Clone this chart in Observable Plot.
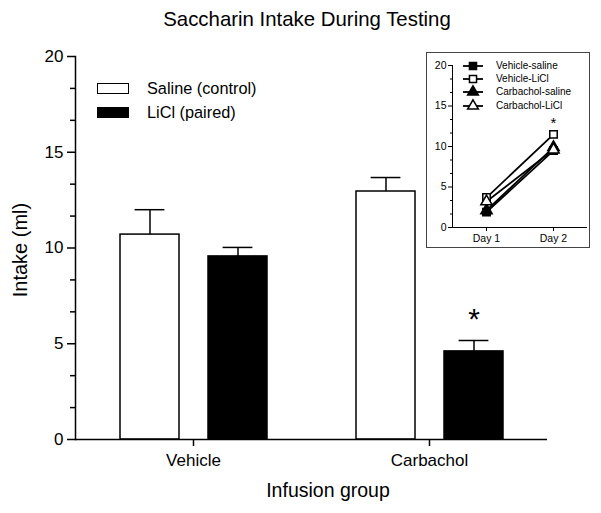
<!DOCTYPE html>
<html><head><meta charset="utf-8">
<script src="https://cdn.jsdelivr.net/npm/d3@7"></script>
<script src="https://cdn.jsdelivr.net/npm/@observablehq/plot@0.6"></script>
<style>
body{margin:0;background:#fff;font-family:"Liberation Sans",Arial,sans-serif;color:#000;}
#wrap{position:relative;width:601px;height:513px;overflow:hidden;}
.lbl{position:absolute;white-space:nowrap;line-height:20px;}
.leg{position:absolute;white-space:nowrap;display:flex;align-items:center;}
.box{box-sizing:border-box;width:32px;height:11px;border:1.5px solid #000;margin-right:18px;}
#insetBox{position:absolute;left:426px;top:52px;width:164px;height:196px;box-sizing:border-box;border:1.5px solid #444;}
.ileg{position:absolute;left:461px;white-space:nowrap;display:flex;align-items:center;font-size:10px;height:12px;line-height:12px;}
.ileg svg{display:block;flex:none;}
</style></head><body><div id="wrap"></div>
<script>
// ---- main chart data ----
const groups = ["Vehicle", "Carbachol"];
const conditions = ["Saline (control)", "LiCl (paired)"];
const salineMeans = [10.7, 12.95];
const salineSEM = [1.3, 0.73];
const liclMeans = [9.56, 4.6];
const liclSEM = [0.47, 0.57];
const significant = [["Carbachol", "LiCl (paired)"]];
const majorTicks = [0, 5, 10, 15, 20];
const minorTicks = [5/3, 10/3, 20/3, 25/3, 35/3, 40/3, 50/3, 55/3];

// ---- inset data ----
const insetSeries = ["Vehicle-saline", "Vehicle-LiCl", "Carbachol-saline", "Carbachol-LiCl"];
const insetSymbols = ["square", "square", "triangle", "triangle"];
const insetOpen = [false, true, false, true];
const insetDays = ["Day 1", "Day 2"];
const day1Intake = [1.9, 3.7, 2.1, 3.2];
const day2Intake = [9.5, 11.5, 9.9, 9.6];
const insetSignificant = [["Vehicle-LiCl", "Day 2"]];

const FONT = "Liberation Sans, Arial, sans-serif";
const wrap = document.getElementById("wrap");

const bars = groups.flatMap((g, i) => [
  {group: g, condition: conditions[0], value: salineMeans[i], sem: salineSEM[i]},
  {group: g, condition: conditions[1], value: liclMeans[i], sem: liclSEM[i]}
]);
bars.forEach(d => d.sig = significant.some(([g, c]) => g === d.group && c === d.condition));

const main = Plot.plot({
  width: 601, height: 513,
  marginLeft: 75, marginRight: 54, marginTop: 56, marginBottom: 74,
  style: {fontFamily: FONT, background: "transparent", color: "black"},
  fx: {domain: groups, padding: 0, label: null},
  x: {domain: conditions, paddingInner: 0.33, paddingOuter: 0.5, axis: null},
  y: {domain: [0, 20]},
  color: {domain: conditions, range: ["white", "black"]},
  marks: [
    Plot.ruleX(bars, {fx: "group", x: "condition", y1: "value", y2: d => d.value + d.sem, stroke: "black", strokeWidth: 1.5}),
    Plot.tickY(bars, {fx: "group", x: "condition", y: d => d.value + d.sem, stroke: "black", strokeWidth: 1.5, insetLeft: 14.6, insetRight: 14.6}),
    Plot.barY(bars, {fx: "group", x: "condition", y: "value", fill: "condition", stroke: "black", strokeWidth: 1.5}),
    Plot.text(bars.filter(d => d.sig), {fx: "group", x: "condition", y: d => d.value + d.sem, text: () => "*", dy: -21, fontSize: 30}),
    Plot.ruleY([0], {stroke: "black", strokeWidth: 1.5}),
    Plot.frame({anchor: "left", facetAnchor: "left", stroke: "black", strokeWidth: 1.5}),
    Plot.axisY(majorTicks, {tickSize: 8, tickPadding: 4, fontSize: 17, label: null, strokeWidth: 1.5}),
    Plot.axisY(minorTicks, {tickSize: 5, tickFormat: () => "", label: null, strokeWidth: 1.5}),
    Plot.axisFx({anchor: "bottom", tickSize: 7, tickPadding: 7, fontSize: 17, label: null, strokeWidth: 1.5})
  ]
});
Object.assign(main.style, {position: "absolute", left: "0px", top: "0px"});
wrap.appendChild(main);

// titles
function addLabel(text, css) {
  const d = document.createElement("div");
  d.className = "lbl"; d.textContent = text;
  Object.assign(d.style, css);
  wrap.appendChild(d);
}
addLabel("Saccharin Intake During Testing", {left: "307px", top: "9px", fontSize: "20.4px", transform: "translateX(-50%)"});
addLabel("Infusion group", {left: "328px", top: "480px", fontSize: "19.5px", transform: "translateX(-50%)"});
addLabel("Intake (ml)", {left: "19.5px", top: "250px", fontSize: "20px", transform: "translate(-50%,-50%) rotate(-90deg)"});

// main legend
const legColors = ["white", "black"];
conditions.forEach((c, i) => {
  const row = document.createElement("div");
  row.className = "leg";
  Object.assign(row.style, {left: "97px", top: (i === 0 ? 78 : 102) + "px", height: "20px", fontSize: "16.3px"});
  const b = document.createElement("div");
  b.className = "box"; b.style.background = legColors[i];
  const t = document.createElement("span"); t.textContent = c;
  row.appendChild(b); row.appendChild(t);
  wrap.appendChild(row);
});

// inset
const insetRows = insetSeries.flatMap((s, i) => [
  {series: s, day: insetDays[0], value: day1Intake[i], open: insetOpen[i]},
  {series: s, day: insetDays[1], value: day2Intake[i], open: insetOpen[i]}
]);
const insetSig = insetRows.filter(d => insetSignificant.some(([s, day]) => s === d.series && day === d.day));

const inset = Plot.plot({
  width: 162, height: 194,
  marginLeft: 25, marginRight: 2, marginTop: 12, marginBottom: 20,
  style: {fontFamily: FONT, background: "transparent", color: "black"},
  x: {type: "point", domain: insetDays, padding: 0.5},
  y: {domain: [0, 20]},
  symbol: {domain: insetSeries, range: insetSymbols},
  marks: [
    Plot.line(insetRows, {x: "day", y: "value", z: "series", stroke: "black", strokeWidth: 1.8}),
    Plot.dot(insetRows, {x: "day", y: "value", symbol: "series", r: 4.2, fill: d => d.open ? "white" : "black", stroke: "black", strokeWidth: 1.5}),
    Plot.text(insetSig, {x: "day", y: "value", text: () => "*", dy: -11, fontSize: 15}),
    Plot.ruleY([0], {stroke: "black", strokeWidth: 1}),
    Plot.frame({anchor: "left", stroke: "black", strokeWidth: 1}),
    Plot.axisY(majorTicks, {tickSize: 4, tickPadding: 2, fontSize: 10.5, label: null}),
    Plot.axisY(minorTicks, {tickSize: 2, tickFormat: () => "", label: null}),
    Plot.axisX({tickSize: 4, tickPadding: 3, fontSize: 10.5, label: null})
  ]
});
Object.assign(inset.style, {position: "absolute", left: "427px", top: "53px"});
wrap.appendChild(inset);

const ib = document.createElement("div"); ib.id = "insetBox"; wrap.appendChild(ib);

// inset legend
const rowCenters = [66, 79, 92.3, 105.7];
insetSeries.forEach((s, i) => {
  const row = document.createElement("div");
  row.className = "ileg";
  row.style.top = (rowCenters[i] - 6) + "px";
  const sym = insetSymbols[i] === "square" ? d3.symbolSquare : d3.symbolTriangle;
  const path = d3.symbol(sym, 16 * Math.PI)();
  row.innerHTML = `<svg width="24" height="12" style="margin-right:11px;overflow:visible"><line x1="2" x2="22" y1="6" y2="6" stroke="black" stroke-width="1.8"/><path d="${path}" transform="translate(12,6)" fill="${insetOpen[i] ? "white" : "black"}" stroke="black" stroke-width="1.5"/></svg><span>${s}</span>`;
  wrap.appendChild(row);
});
</script></body></html>
